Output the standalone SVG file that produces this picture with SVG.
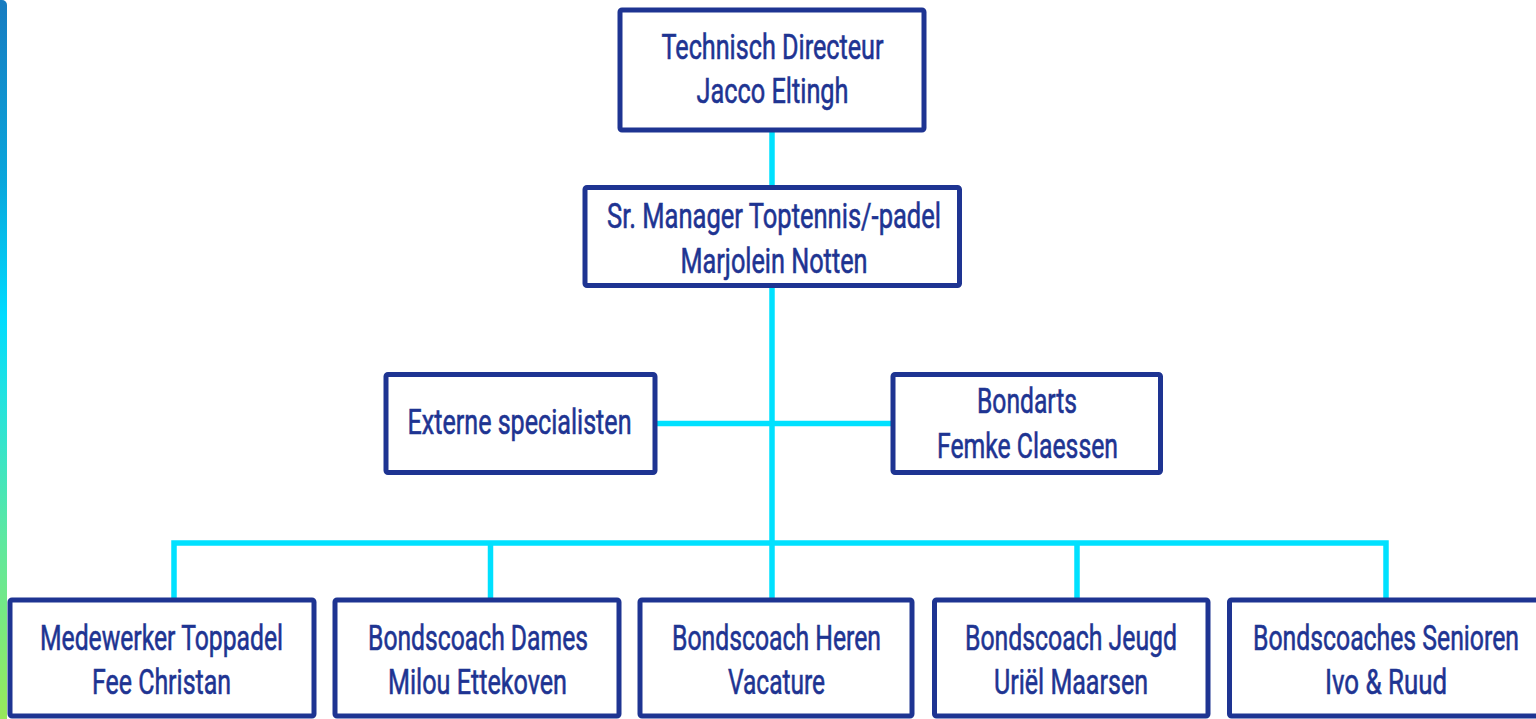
<svg xmlns="http://www.w3.org/2000/svg" width="1536" height="719" viewBox="0 0 1536 719">
<defs>
<linearGradient id="bar" x1="0" y1="0" x2="0" y2="719" gradientUnits="userSpaceOnUse">
<stop offset="0" stop-color="#177bc0"/>
<stop offset="0.25" stop-color="#09a6dc"/>
<stop offset="0.44" stop-color="#00dbff"/>
<stop offset="0.55" stop-color="#22e2e0"/>
<stop offset="0.75" stop-color="#5ee8a0"/>
<stop offset="1" stop-color="#98e85a"/>
</linearGradient>
<style>
.box{fill:#fff;stroke:#1e3492;stroke-width:5;}
.t{font-family:Roboto,"Liberation Sans",sans-serif;font-size:35px;fill:#1e3492;stroke:#1e3492;stroke-width:0.6;text-anchor:middle;}
.c{fill:none;stroke:#00e1ff;stroke-width:5.5;stroke-linejoin:miter;}
</style>
</defs>
<rect x="0" y="0" width="1536" height="719" fill="#fff"/>
<rect x="-6" y="0" width="13" height="730" rx="5" fill="url(#bar)"/>
<g id="connectors">
<line class="c" x1="772" y1="130" x2="772" y2="188"/>
<line class="c" x1="772" y1="286" x2="772" y2="600"/>
<line class="c" x1="655" y1="423.5" x2="893" y2="423.5"/>
<path class="c" d="M174 600 V543 H1386 V600"/>
<line class="c" x1="490.5" y1="543" x2="490.5" y2="600"/>
<line class="c" x1="1077" y1="543" x2="1077" y2="600"/>
</g>
<g id="n-td">
<rect class="box" x="620" y="10" width="304" height="120" rx="2"/>
<text class="t" x="772.5" y="59" textLength="222" lengthAdjust="spacingAndGlyphs">Technisch Directeur</text>
<text class="t" x="772.5" y="103" textLength="152" lengthAdjust="spacingAndGlyphs">Jacco Eltingh</text>
</g>
<g id="n-sr">
<rect class="box" x="585" y="187.5" width="374.5" height="98" rx="2"/>
<text class="t" x="774" y="228" textLength="334" lengthAdjust="spacingAndGlyphs">Sr. Manager Toptennis/-padel</text>
<text class="t" x="774" y="273" textLength="187" lengthAdjust="spacingAndGlyphs">Marjolein Notten</text>
</g>
<g id="n-ext">
<rect class="box" x="386" y="374.5" width="269" height="98" rx="2"/>
<text class="t" x="519.5" y="434" textLength="224" lengthAdjust="spacingAndGlyphs">Externe specialisten</text>
</g>
<g id="n-bondarts">
<rect class="box" x="893" y="374.5" width="267.5" height="98" rx="2"/>
<text class="t" x="1027" y="413" textLength="100" lengthAdjust="spacingAndGlyphs">Bondarts</text>
<text class="t" x="1027.5" y="458" textLength="181" lengthAdjust="spacingAndGlyphs">Femke Claessen</text>
</g>
<g id="n-toppadel">
<rect class="box" x="10" y="600" width="304" height="116" rx="2"/>
<text class="t" x="161.5" y="650" textLength="243" lengthAdjust="spacingAndGlyphs">Medewerker Toppadel</text>
<text class="t" x="161.5" y="694" textLength="139" lengthAdjust="spacingAndGlyphs">Fee Christan</text>
</g>
<g id="n-dames">
<rect class="box" x="335" y="600" width="284" height="116" rx="2"/>
<text class="t" x="478" y="650" textLength="220" lengthAdjust="spacingAndGlyphs">Bondscoach Dames</text>
<text class="t" x="477.5" y="694" textLength="179" lengthAdjust="spacingAndGlyphs">Milou Ettekoven</text>
</g>
<g id="n-heren">
<rect class="box" x="640" y="600" width="272" height="116" rx="2"/>
<text class="t" x="776.5" y="650" textLength="209" lengthAdjust="spacingAndGlyphs">Bondscoach Heren</text>
<text class="t" x="776.5" y="694" textLength="97" lengthAdjust="spacingAndGlyphs">Vacature</text>
</g>
<g id="n-jeugd">
<rect class="box" x="934.5" y="600" width="273.5" height="116" rx="2"/>
<text class="t" x="1071" y="650" textLength="212" lengthAdjust="spacingAndGlyphs">Bondscoach Jeugd</text>
<text class="t" x="1071" y="694" textLength="154" lengthAdjust="spacingAndGlyphs">Uriël Maarsen</text>
</g>
<g id="n-senioren">
<rect class="box" x="1229.5" y="600" width="314" height="116" rx="2"/>
<text class="t" x="1386" y="650" textLength="266" lengthAdjust="spacingAndGlyphs">Bondscoaches Senioren</text>
<text class="t" x="1386" y="694" textLength="122" lengthAdjust="spacingAndGlyphs">Ivo &amp; Ruud</text>
</g>
</svg>
